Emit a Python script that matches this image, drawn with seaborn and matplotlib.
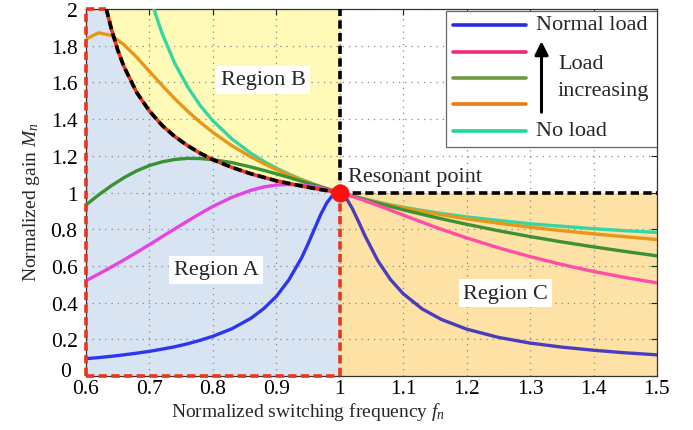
import matplotlib
matplotlib.use("Agg")
import numpy as np
import pandas as pd
import matplotlib.pyplot as plt
import seaborn as sns
from matplotlib.patches import Rectangle
from matplotlib.ticker import FuncFormatter

# ---------------------------------------------------------------------------
# Data: normalized gain Mn versus normalized switching frequency fn
# ---------------------------------------------------------------------------
fn = [0.60, 0.62, 0.64, 0.66, 0.68, 0.70, 0.72, 0.74, 0.76, 0.78, 0.80, 0.83,
      0.86, 0.88, 0.90, 0.92, 0.94, 0.95, 0.96, 0.97, 0.98, 0.99, 1.00, 1.01,
      1.02, 1.03, 1.04, 1.06, 1.08, 1.10, 1.13, 1.16, 1.20, 1.25, 1.30, 1.35,
      1.40, 1.45, 1.50]

gain_normal = [0.095, 0.101, 0.108, 0.116, 0.125, 0.135, 0.147, 0.160, 0.176,
               0.195, 0.217, 0.258, 0.315, 0.367, 0.434, 0.525, 0.645, 0.720,
               0.800, 0.880, 0.946, 0.990, 1.000, 0.971, 0.912, 0.839, 0.763,
               0.629, 0.526, 0.449, 0.366, 0.309, 0.256, 0.211, 0.180, 0.158,
               0.141, 0.127, 0.116]

gain_load2 = [0.520, 0.556, 0.594, 0.633, 0.674, 0.716, 0.759, 0.802, 0.844,
              0.885, 0.924, 0.974, 1.012, 1.030, 1.041, 1.044, 1.041, 1.038,
              1.032, 1.026, 1.018, 1.010, 1.000, 0.990, 0.979, 0.967, 0.955,
              0.930, 0.904, 0.877, 0.838, 0.800, 0.753, 0.699, 0.651, 0.608,
              0.570, 0.537, 0.508]

gain_load3 = [0.932, 0.987, 1.037, 1.081, 1.118, 1.147, 1.167, 1.180, 1.186,
              1.185, 1.179, 1.163, 1.139, 1.121, 1.102, 1.082, 1.061, 1.051,
              1.041, 1.030, 1.020, 1.010, 1.000, 0.990, 0.980, 0.971, 0.961,
              0.942, 0.924, 0.906, 0.881, 0.857, 0.827, 0.792, 0.760, 0.731,
              0.704, 0.679, 0.655]

gain_load4 = [1.835, 1.870, 1.855, 1.805, 1.737, 1.660, 1.584, 1.511, 1.444,
              1.383, 1.328, 1.255, 1.194, 1.158, 1.125, 1.095, 1.068, 1.056,
              1.043, 1.032, 1.021, 1.010, 1.000, 0.990, 0.981, 0.972, 0.963,
              0.946, 0.931, 0.917, 0.897, 0.879, 0.857, 0.833, 0.811, 0.792,
              0.775, 0.759, 0.744]

fn_noload = [0.707, 0.72, 0.74, 0.76, 0.78, 0.80, 0.83, 0.86, 0.88, 0.90, 0.92,
             0.94, 0.97, 1.00, 1.04, 1.08, 1.10, 1.13, 1.16, 1.20, 1.25, 1.30,
             1.35, 1.40, 1.45, 1.50]
gain_noload = [2.000, 1.867, 1.704, 1.577, 1.474, 1.391, 1.292, 1.214, 1.171,
               1.133, 1.100, 1.071, 1.032, 1.000, 0.964, 0.933, 0.920, 0.902,
               0.886, 0.867, 0.848, 0.830, 0.816, 0.803, 0.792, 0.783]

# Boundary between region A and region B
fn_boundary = [0.600, 0.632, 0.636, 0.64, 0.65, 0.66, 0.68, 0.70, 0.72, 0.74,
               0.76, 0.78, 0.80, 0.83, 0.86, 0.90, 0.94, 0.97, 1.00]
gain_boundary = [2.000, 2.000, 1.947, 1.892, 1.777, 1.685, 1.545, 1.444, 1.366,
                 1.305, 1.256, 1.214, 1.179, 1.137, 1.102, 1.064, 1.035, 1.016,
                 1.000]

x_ticks = [0.6, 0.7, 0.8, 0.9, 1.0, 1.1, 1.2, 1.3, 1.4, 1.5]
y_ticks = [0, 0.2, 0.4, 0.6, 0.8, 1.0, 1.2, 1.4, 1.6, 1.8, 2.0]

# ---------------------------------------------------------------------------
# Style
# ---------------------------------------------------------------------------
sns.set_theme(style="white")
plt.rcParams["font.family"] = ["Liberation Serif", "DejaVu Serif"]
plt.rcParams["mathtext.fontset"] = "custom"
plt.rcParams["mathtext.rm"] = "Liberation Serif"
plt.rcParams["mathtext.it"] = "Liberation Serif:italic"

FS_LABEL = 14
FS_TICK = 15.5
FS_TEXT = 16
fill_a, fill_b, fill_c = "#d9e4f3", "#fffab8", "#fde1a5"
red_dash = "#e8361e"

fig = plt.figure(figsize=(6.93, 4.31), dpi=100)
ax = fig.add_axes([0.124, 0.125, 0.824, 0.852])

# Operating regions
fb = np.array(fn_boundary)
gb = np.array(gain_boundary)
ax.fill_between(fb, 0, gb, color=fill_a, lw=0, zorder=0.1)
ax.fill_between(fb[1:], gb[1:], 2.0, color=fill_b, lw=0, zorder=0.1)
ax.fill_between([1.0, 1.5], 0, 1.0, color=fill_c, lw=0, zorder=0.1)

# Gain curves
df_main = pd.DataFrame({"fn": fn, "normal": gain_normal, "load2": gain_load2,
                        "load3": gain_load3, "load4": gain_load4})
df_noload = pd.DataFrame({"fn": fn_noload, "gain": gain_noload})
left = df_main[df_main.fn <= 1.0]
right = df_main[df_main.fn >= 1.0]

lw = 2.4
sns.lineplot(data=df_noload, x="fn", y="gain", color="#35d6a2", lw=lw, ax=ax,
             estimator=None, zorder=3)
sns.lineplot(data=df_main, x="fn", y="load4", color="#e8961a", lw=lw, ax=ax,
             estimator=None, zorder=3)
sns.lineplot(data=df_main, x="fn", y="load3", color="#3a9234", lw=lw, ax=ax,
             estimator=None, zorder=3)
sns.lineplot(data=left, x="fn", y="load2", color="#e444e4", lw=lw, ax=ax,
             estimator=None, zorder=3)
sns.lineplot(data=right, x="fn", y="load2", color="#ff4da8", lw=lw, ax=ax,
             estimator=None, zorder=3)
sns.lineplot(data=left, x="fn", y="normal", color="#2d35ee", lw=lw, ax=ax,
             estimator=None, zorder=3)
sns.lineplot(data=right, x="fn", y="normal", color="#4a3dbc", lw=lw, ax=ax,
             estimator=None, zorder=3)

# Region outlines
dash = (0, (2.3, 1.2))
kw = dict(lw=2.6, clip_on=False, zorder=4)
ax.plot([0.6, 0.6], [0, 2], color=red_dash, ls=dash, **kw)
ax.plot([0.6, 0.632], [2, 2], color=red_dash, ls=dash, **kw)
ax.plot([0.6, 1.0], [0, 0], color=red_dash, ls=dash, **kw)
ax.plot([1.0, 1.0], [0, 1], color=red_dash, ls=dash, **kw)
ax.plot(fb[1:], gb[1:], color=red_dash, lw=2.6, zorder=4)
ax.plot(fb[1:], gb[1:], color="black", ls=dash, lw=2.6, zorder=4.1)
ax.plot([1.0, 1.0], [1, 2], color="black", ls=dash, **kw)
ax.plot([1.0, 1.5], [1, 1], color="black", ls=dash, **kw)

# Resonant point
ax.plot([1.0], [1.0], "o", color="#ff1010", ms=12, zorder=6, clip_on=False)
ax.text(1.013, 1.085, "Resonant point", fontsize=FS_TEXT, ha="left",
        va="center", zorder=6)

box = dict(facecolor="white", edgecolor="none", pad=3)
ax.text(0.879, 1.613, "Region B", fontsize=FS_TEXT, ha="center", va="center",
        bbox=box, zorder=5)
ax.text(0.805, 0.579, "Region A", fontsize=FS_TEXT, ha="center", va="center",
        bbox=box, zorder=5)
ax.text(1.261, 0.452, "Region C", fontsize=FS_TEXT, ha="center", va="center",
        bbox=box, zorder=5)

# Legend panel
tr = ax.transAxes
ax.add_patch(Rectangle((0.6306, 0.624), 0.3694, 0.371, transform=tr,
                       facecolor="white", edgecolor="#666666", lw=0.9,
                       zorder=7))
legend_colors = ["#2a2ae8", "#f0287a", "#6e9a3c", "#ee7a14", "#22d49e"]
legend_y = [0.9565, 0.8835, 0.811, 0.740, 0.6685]
for c, yy in zip(legend_colors, legend_y):
    ax.plot([0.6433, 0.7711], [yy, yy], color=c, lw=2.6, transform=tr,
            zorder=8, solid_capstyle="round")
ax.text(0.789, legend_y[0], "Normal load", fontsize=FS_TEXT, transform=tr,
        ha="left", va="center", zorder=8)
ax.text(0.789, legend_y[-1], "No load", fontsize=FS_TEXT, transform=tr,
        ha="left", va="center", zorder=8)
ax.text(0.8267, 0.852, "Load", fontsize=FS_TEXT, transform=tr,
        ha="left", va="center", zorder=8)
ax.text(0.8267, 0.778, "increasing", fontsize=FS_TEXT, transform=tr,
        ha="left", va="center", zorder=8)
ax.annotate("", xy=(0.7978, 0.912), xytext=(0.7978, 0.7185),
            xycoords=tr, textcoords=tr,
            arrowprops=dict(arrowstyle="-|>", color="black", lw=2.2,
                            mutation_scale=20, shrinkA=0, shrinkB=0),
            zorder=8)

# Axes
ax.set_xlim(0.6, 1.5)
ax.set_ylim(0, 2)
ax.set_xticks(x_ticks)
ax.set_yticks(y_ticks)
fmt = FuncFormatter(lambda v, p: f"{v:g}")
ax.xaxis.set_major_formatter(fmt)
ax.yaxis.set_major_formatter(fmt)
ax.tick_params(direction="in", length=4, width=0.8, top=True, right=True,
               labelsize=FS_TICK, colors="#222222", labelcolor="black")
ax.tick_params(axis="y", pad=6)
ax.tick_params(axis="x", pad=2)
ax.set_axisbelow(True)
ax.grid(True, ls=(0, (1, 4)), color="#888888", lw=0.9)
for s in ax.spines.values():
    s.set_color("#333333")
    s.set_linewidth(0.9)

# The "0" on the y axis sits just above the corner, clear of "0.6"
fig.canvas.draw()
ax.get_yticklabels()[0].set_verticalalignment("baseline")
ax.get_yticklabels()[0].set_x(-0.012)

ax.set_xlabel("Normalized switching frequency $f_n$", fontsize=FS_LABEL)
ax.set_ylabel("Normalized gain $M_n$", fontsize=FS_LABEL)
ax.xaxis.set_label_coords(0.389, -0.066)
ax.yaxis.set_label_coords(-0.077, 0.478)

fig.savefig("out.png", dpi=100)
